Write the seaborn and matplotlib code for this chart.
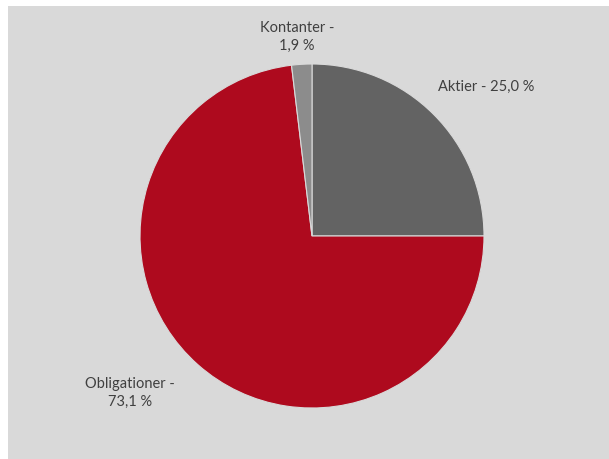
import matplotlib
matplotlib.use('Agg')
import matplotlib.pyplot as plt
import seaborn as sns
from matplotlib.patches import Rectangle

# Data
categories = ['Aktier', 'Obligationer', 'Kontanter']
shares = [25.0, 73.1, 1.9]
colors = ['#636363', '#AE0A1E', '#8C8C8C']

sns.set_style('white')
plt.rcParams['font.family'] = ['Lato', 'DejaVu Sans']

W, H = 609, 459
fig = plt.figure(figsize=(W / 100, H / 100), dpi=100, facecolor='white')

# grey chart area with white margin at top/left
fig.patches.append(Rectangle((8 / W, 0), 1 - 8 / W, 453 / H, transform=fig.transFigure,
                             facecolor='#D9D9D9', edgecolor='none', zorder=-1))

cx, cy, r = 312, 236, 172
ax = fig.add_axes([(cx - r) / W, (H - cy - r) / H, 2 * r / W, 2 * r / H])
ax.set_facecolor('none')

ax.pie(shares, colors=colors, startangle=90, counterclock=False, radius=1,
       wedgeprops=dict(edgecolor='#D9D9D9', linewidth=0.8))
ax.set_xlim(-1, 1)
ax.set_ylim(-1, 1)
ax.set_aspect('equal')
ax.axis('off')


def px(x, y):
    return (x - cx) / r, (cy - y) / r


txt = dict(color='#404040', fontsize=10.5, clip_on=False)
labels = [f'{c} - {v:.1f} %'.replace('.', ',') for c, v in zip(categories, shares)]

ax.text(*px(438, 87), labels[0], ha='left', va='center', **txt)
ax.text(*px(130, 393), 'Obligationer -\n' + f'{shares[1]:.1f} %'.replace('.', ','),
        ha='center', va='center', linespacing=1.3, **txt)
ax.text(*px(297, 37), 'Kontanter -\n' + f'{shares[2]:.1f} %'.replace('.', ','),
        ha='center', va='center', linespacing=1.3, **txt)

fig.savefig('out.png', dpi=100, facecolor='white')
